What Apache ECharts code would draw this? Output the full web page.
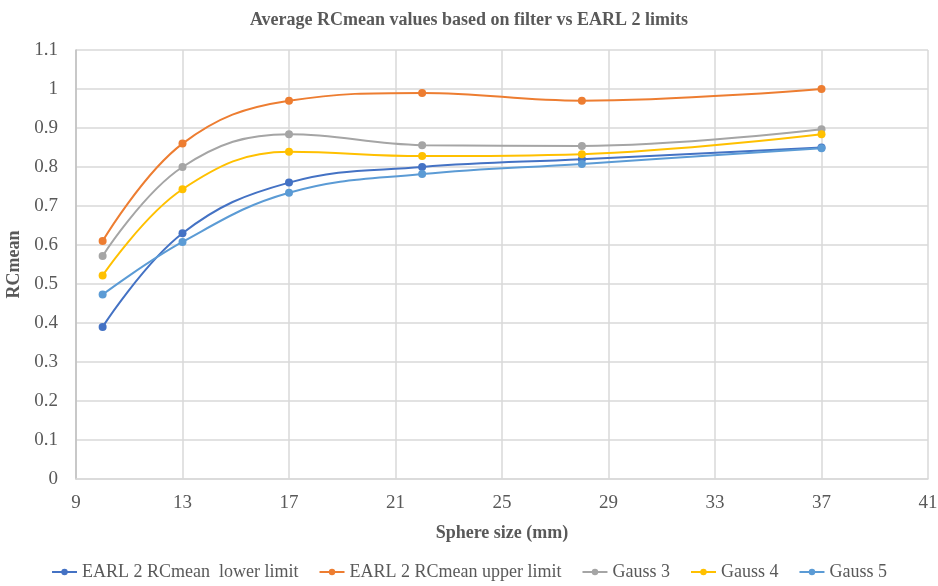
<!DOCTYPE html>
<html>
<head>
<meta charset="utf-8">
<script src="https://cdn.jsdelivr.net/npm/echarts@6/dist/echarts.min.js"></script>
<style>
  html, body { margin: 0; padding: 0; background: #fff; }
  #chart { width: 938px; height: 586px; }
</style>
</head>
<body>
<div id="chart"></div>
<script>
// Sphere diameters (mm) and recovery coefficients per filter
const sphereSizes = [10, 13, 17, 22, 28, 37];
const earlLower = [0.39, 0.63, 0.76, 0.80, 0.82, 0.85];
const earlUpper = [0.61, 0.86, 0.97, 0.99, 0.97, 1.00];
const gauss3 = [0.572, 0.80, 0.884, 0.856, 0.854, 0.897];
const gauss4 = [0.522, 0.743, 0.839, 0.828, 0.833, 0.884];
const gauss5 = [0.473, 0.608, 0.734, 0.782, 0.808, 0.848];

const seriesNames = ['EARL 2 RCmean  lower limit', 'EARL 2 RCmean upper limit', 'Gauss 3', 'Gauss 4', 'Gauss 5'];
const seriesValues = [earlLower, earlUpper, gauss3, gauss4, gauss5];
const colors = ['#4472C4', '#ED7D31', '#A5A5A5', '#FFC000', '#5B9BD5'];

const font = '"Liberation Serif", "Times New Roman", serif';

const chart = echarts.init(document.getElementById('chart'));
chart.setOption({
  animation: false,
  color: colors,
  title: {
    text: 'Average RCmean values based on filter vs EARL 2 limits',
    left: 'center',
    top: 6,
    textStyle: { fontFamily: font, fontSize: 18, fontWeight: 'bold', color: '#595959' }
  },
  legend: {
    bottom: 0,
    left: 'center',
    itemWidth: 25,
    itemHeight: 8,
    itemGap: 20,
    textStyle: { fontFamily: font, fontSize: 18, color: '#595959' },
    data: seriesNames
  },
  grid: { left: 76, right: 10, top: 50, bottom: 107, outerBoundsMode: 'none', containLabel: false },
  xAxis: {
    type: 'value',
    min: 9,
    max: 41,
    interval: 4,
    name: 'Sphere size (mm)',
    nameLocation: 'middle',
    nameGap: 45,
    nameTextStyle: { fontFamily: font, fontSize: 18, fontWeight: 'bold', color: '#595959' },
    axisLine: { show: true, lineStyle: { color: '#d9d9d9', width: 1.5 } },
    axisTick: { show: false },
    axisLabel: { fontFamily: font, fontSize: 19, color: '#595959', margin: 15 },
    splitLine: { show: true, lineStyle: { color: '#d9d9d9', width: 1.5 } }
  },
  yAxis: {
    type: 'value',
    min: 0,
    max: 1.1,
    interval: 0.1,
    name: 'RCmean',
    nameLocation: 'middle',
    nameGap: 47,
    nameRotate: 90,
    nameTextStyle: { fontFamily: font, fontSize: 18, fontWeight: 'bold', color: '#595959' },
    axisLine: { show: true, lineStyle: { color: '#bfbfbf', width: 1.5 } },
    axisTick: { show: false },
    axisLabel: {
      fontFamily: font, fontSize: 19, color: '#595959', margin: 18,
      formatter: v => String(Math.round(v * 10) / 10)
    },
    splitLine: { show: true, lineStyle: { color: '#d9d9d9', width: 1.5 } }
  },
  series: seriesNames.map((name, i) => ({
    name: name,
    type: 'line',
    smooth: 0.4,
    symbol: 'circle',
    symbolSize: 8,
    lineStyle: { width: 2, color: colors[i] },
    itemStyle: { color: colors[i] },
    data: sphereSizes.map((x, j) => [x, seriesValues[i][j]])
  }))
});
</script>
</body>
</html>
